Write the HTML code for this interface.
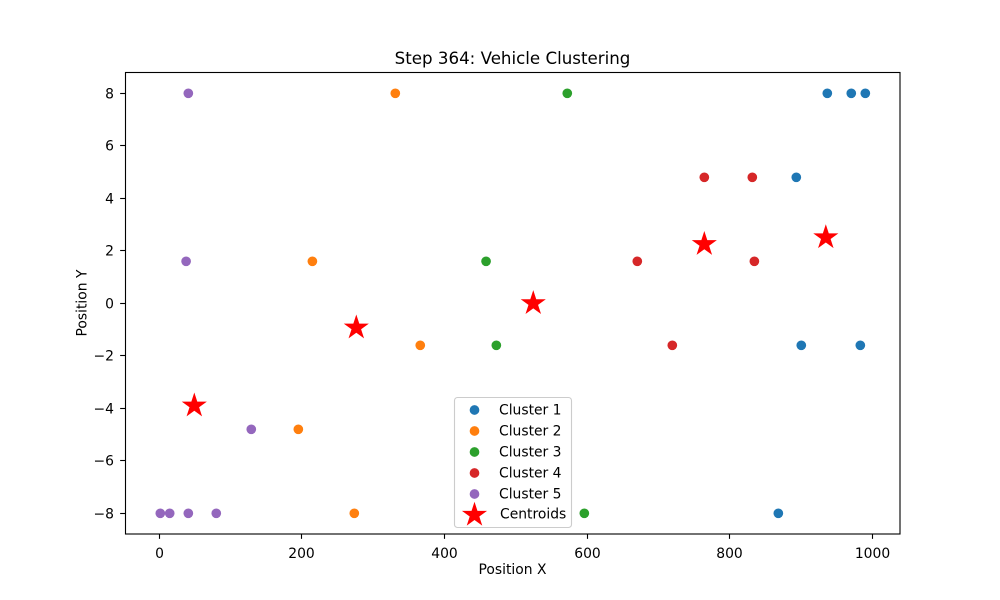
<!DOCTYPE html>
<html>
<head>
<meta charset="utf-8">
<title>Step 364: Vehicle Clustering</title>
<style>
html,body{margin:0;padding:0;background:#fff;width:1000px;height:600px;overflow:hidden}
svg{display:block}
text{font-family:"DejaVu Sans",sans-serif;fill:#000}
</style>
</head>
<body>
<svg id="chart" xmlns="http://www.w3.org/2000/svg" width="1000" height="600" viewBox="0 0 1000 600"></svg>
<script>
const xTickValues = [0, 200, 400, 600, 800, 1000];
const yTickValues = [-8, -6, -4, -2, 0, 2, 4, 6, 8];
const clusterNames = ['Cluster 1', 'Cluster 2', 'Cluster 3', 'Cluster 4', 'Cluster 5'];
const clusterColors = ['#1f77b4', '#ff7f0e', '#2ca02c', '#d62728', '#9467bd'];
const cluster1X = [936.9, 970.5, 990.2, 893.4, 900.4, 983.2, 868.2];
const cluster1Y = [8, 8, 8, 4.8, -1.6, -1.6, -8];
const cluster2X = [331, 214.7, 366, 195, 273.5];
const cluster2Y = [8, 1.6, -1.6, -4.8, -8];
const cluster3X = [572.2, 458.3, 472.7, 596.1];
const cluster3Y = [8, 1.6, -1.6, -8];
const cluster4X = [764.4, 831.7, 670.4, 834.6, 719.5];
const cluster4Y = [4.8, 4.8, 1.6, 1.6, -1.6];
const cluster5X = [40.7, 37.6, 129, 1.4, 14.6, 40.7, 79.9];
const cluster5Y = [8, 1.6, -4.8, -8, -8, -8, -8];
const centroidX = [934.8, 764.4, 524.5, 276.3, 49.1];
const centroidY = [2.51, 2.25, 0, -0.93, -3.9];

const NS = 'http://www.w3.org/2000/svg';
const svg = document.getElementById('chart');
const plot = {left: 125, right: 900, top: 72, bottom: 534};
function xScale(v) { return 159.3 + v * 0.713; }
function yScale(v) { return 303.3 - v * 26.25; }
function make(tag, attrs, parent) {
  const el = document.createElementNS(NS, tag);
  for (const k in attrs) el.setAttribute(k, attrs[k]);
  (parent || svg).appendChild(el);
  return el;
}
function starPoints(cx, cy, R) {
  const r = R * 0.381966;
  const pts = [];
  for (let i = 0; i < 10; i++) {
    const a = -Math.PI / 2 + i * Math.PI / 5;
    const q = i % 2 ? r : R;
    pts.push((cx + q * Math.cos(a)).toFixed(2) + ',' + (cy + q * Math.sin(a)).toFixed(2));
  }
  return pts.join(' ');
}

// plot area background
const bg = make('rect', {x: plot.left, y: plot.top, width: plot.right - plot.left, height: plot.bottom - plot.top, fill: '#fff'});



// x ticks
xTickValues.forEach(function (v) {
  const px = Math.floor(xScale(v)) + 0.5;
  const t = make('line', {x1: px, x2: px, y1: plot.bottom, y2: plot.bottom + 4.86, stroke: '#000', 'stroke-width': 1.11});
  
  
  const l = make('text', {x: px, y: 558, 'font-size': 13.89, 'text-anchor': 'middle'});
  l.textContent = String(v);
  
  
});

// y ticks
yTickValues.forEach(function (v) {
  const py = Math.floor(yScale(v)) + 0.5;
  const t = make('line', {x1: plot.left - 4.86, x2: plot.left, y1: py, y2: py, stroke: '#000', 'stroke-width': 1.11});
  
  
  const l = make('text', {x: 114, y: py + 5, 'font-size': 13.89, 'text-anchor': 'end'});
  l.textContent = String(v).replace('-', '\u2212');
  
  
});

// cluster points
const clusterXs = [cluster1X, cluster2X, cluster3X, cluster4X, cluster5X];
const clusterYs = [cluster1Y, cluster2Y, cluster3Y, cluster4Y, cluster5Y];
clusterXs.forEach(function (xs, c) {
  xs.forEach(function (x, i) {
    const p = make('circle', {cx: xScale(x), cy: yScale(clusterYs[c][i]), r: 4.85, fill: clusterColors[c]});
    
    
  });
});

// centroids
centroidX.forEach(function (x, i) {
  const s = make('polygon', {points: starPoints(xScale(x), yScale(centroidY[i]), 13.2), fill: '#ff0000'});
  
  
});

// axes frame
const frame = make('rect', {x: plot.left + 0.5, y: plot.top + 0.5, width: plot.right - plot.left - 0.5, height: plot.bottom - plot.top - 0.5, fill: 'none', stroke: '#000', 'stroke-width': 1.11});



// title and axis labels
const title = make('text', {x: 512.5, y: 64, 'font-size': 16.67, 'text-anchor': 'middle'});
title.textContent = 'Step 364: Vehicle Clustering';



const xTitle = make('text', {x: 512.5, y: 574, 'font-size': 13.89, 'text-anchor': 'middle'});
xTitle.textContent = 'Position X';



const yTitle = make('text', {x: 0, y: 0, 'font-size': 13.89, 'text-anchor': 'middle', transform: 'translate(86.5 303) rotate(-90)'});
yTitle.textContent = 'Position Y';



// legend
const legend = make('g', {});


const legendBox = make('rect', {x: 454.5, y: 397.5, width: 117, height: 130, rx: 3, ry: 3, fill: '#fff', 'fill-opacity': 0.8, stroke: '#ccc', 'stroke-width': 1.11}, legend);


clusterNames.forEach(function (name, i) {
  const cy = 410 + i * 21;
  const m = make('circle', {cx: 474.5, cy: cy, r: 4.85, fill: clusterColors[i]}, legend);
  
  
  const l = make('text', {x: 499, y: cy + 4.5, 'font-size': 13.89}, legend);
  l.textContent = name;
  
  
});
const legendStar = make('polygon', {points: starPoints(474.5, 515, 13.2), fill: '#ff0000'}, legend);


const legendCentroids = make('text', {x: 500, y: 518.5, 'font-size': 13.89}, legend);
legendCentroids.textContent = 'Centroids';


</script>
</body>
</html>
